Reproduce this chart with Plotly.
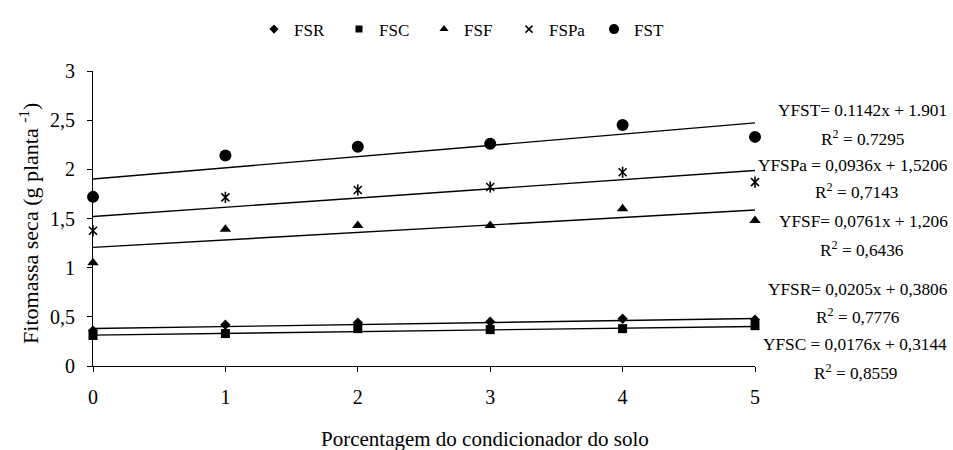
import plotly.graph_objects as go

x_vals = [0, 1, 2, 3, 4, 5]
fsr = [0.36, 0.42, 0.44, 0.45, 0.48, 0.47]
fsc = [0.31, 0.33, 0.38, 0.37, 0.38, 0.41]
fsf = [1.05, 1.39, 1.43, 1.43, 1.60, 1.48]
fspa = [1.375, 1.715, 1.79, 1.82, 1.97, 1.87]
fst = [1.72, 2.14, 2.23, 2.26, 2.45, 2.33]

series_names = ["FSR", "FSC", "FSF", "FSPa", "FST"]
slopes = [0.0205, 0.0176, 0.0761, 0.0936, 0.1142]
intercepts = [0.3806, 0.3144, 1.206, 1.5206, 1.901]

eq_labels = [
    "YFST= 0.1142x + 1.901",
    "R<sup>2</sup> = 0.7295",
    "YFSPa = 0,0936x + 1,5206",
    "R<sup>2</sup> = 0,7143",
    "YFSF= 0,0761x + 1,206",
    "R<sup>2</sup> = 0,6436",
    "YFSR= 0,0205x + 0,3806",
    "R<sup>2</sup> = 0,7776",
    "YFSC = 0,0176x + 0,3144",
    "R<sup>2</sup> = 0,8559",
]

y_tickvals = [0, 0.5, 1, 1.5, 2, 2.5, 3]
y_ticktext = ["0", "0,5", "1", "1,5", "2", "2,5", "3"]

FONT = "Liberation Serif, Times New Roman, serif"

# layout geometry (pixels)
W, H = 953, 450
ML, MR, MT, MB = 93, 198, 67, 84
PW = W - ML - MR
PH = H - MT - MB


def px_x(px):
    return (px - ML) / PW


def px_y(py):
    return (H - MB - py) / PH


fig = go.Figure()

# trend lines
x_line = [x_vals[0], x_vals[-1]]
for s, b in zip(slopes, intercepts):
    fig.add_trace(go.Scatter(
        x=x_line, y=[b + s * xx for xx in x_line], mode="lines",
        line=dict(color="black", width=1.4), showlegend=False, hoverinfo="skip",
        cliponaxis=False))

# (data, symbol, plot size, legend size)
marker_specs = [
    (fsr, "diamond", 8, 7),
    (fsc, "square", 9, 7),
    (fsf, "triangle-up", 10, 8),
    (fspa, "x-thin-open", 8, 7),
    (fst, "circle", 12, 10),
]
for name, (vals, sym, size, lsize) in zip(series_names, marker_specs):
    is_open = "open" in sym
    fig.add_trace(go.Scatter(
        x=x_vals, y=vals, mode="markers", name=name, showlegend=False,
        marker=dict(symbol=sym, size=size, color="black",
                    line=dict(color="black", width=1.6 if is_open else 0)),
        cliponaxis=False))
    if name == "FSPa":
        fig.add_trace(go.Scatter(
            x=x_vals, y=vals, mode="markers", showlegend=False,
            marker=dict(symbol="line-ns-open", size=8, color="black",
                        line=dict(color="black", width=1.6)),
            cliponaxis=False))
    # legend entry with the smaller legend symbol
    fig.add_trace(go.Scatter(
        x=[None], y=[None], mode="markers", name=name,
        marker=dict(symbol=sym, size=lsize, color="black",
                    line=dict(color="black", width=1.5 if is_open else 0))))

# equation annotations (pixel positions converted to paper coords)
eq_pos = [(862, 107), (863, 135), (853, 163), (857, 189), (863, 220),
          (862, 247), (858, 288), (858, 315), (855, 344), (856, 372)]
for txt, (px, py) in zip(eq_labels, eq_pos):
    fig.add_annotation(
        text=txt, xref="paper", yref="paper", x=px_x(px), y=px_y(py),
        xanchor="center", yanchor="middle", showarrow=False,
        font=dict(family=FONT, size=17.3, color="black"))

# x-axis title
fig.add_annotation(
    text="Porcentagem do condicionador do solo", xref="paper", yref="paper",
    x=px_x(485), y=px_y(440), xanchor="center", yanchor="middle",
    showarrow=False, font=dict(family=FONT, size=21, color="black"))

# y-axis title
fig.add_annotation(
    text="Fitomassa seca (g planta <sup>-1</sup>)", xref="paper", yref="paper",
    x=px_x(29), y=px_y(222), xanchor="center", yanchor="middle", textangle=-90,
    showarrow=False, font=dict(family=FONT, size=22, color="black"))

fig.update_layout(
    width=W, height=H,
    margin=dict(l=ML, r=MR, t=MT, b=MB),
    paper_bgcolor="white", plot_bgcolor="white",
    font=dict(family=FONT, size=17, color="black"),
    legend=dict(orientation="h", x=px_x(254), y=px_y(25),
                xanchor="left", yanchor="middle",
                font=dict(family=FONT, size=17, color="black"),
                entrywidth=40, itemwidth=30, tracegroupgap=0),
    xaxis=dict(range=[0, 5], tickvals=x_vals, ticktext=[str(v) for v in x_vals],
               showgrid=False, zeroline=False, showline=True, linecolor="black",
               linewidth=1, ticks="outside", ticklen=5, tickcolor="black",
               ticklabelstandoff=8,
               tickfont=dict(family=FONT, size=20)),
    yaxis=dict(range=[0, 3], tickvals=y_tickvals, ticktext=y_ticktext,
               showgrid=False, zeroline=False, showline=True, linecolor="black",
               linewidth=1, ticks="outside", ticklen=5, tickcolor="black",
               ticklabelstandoff=8,
               tickfont=dict(family=FONT, size=20)),
)

fig.write_html("out.html")
